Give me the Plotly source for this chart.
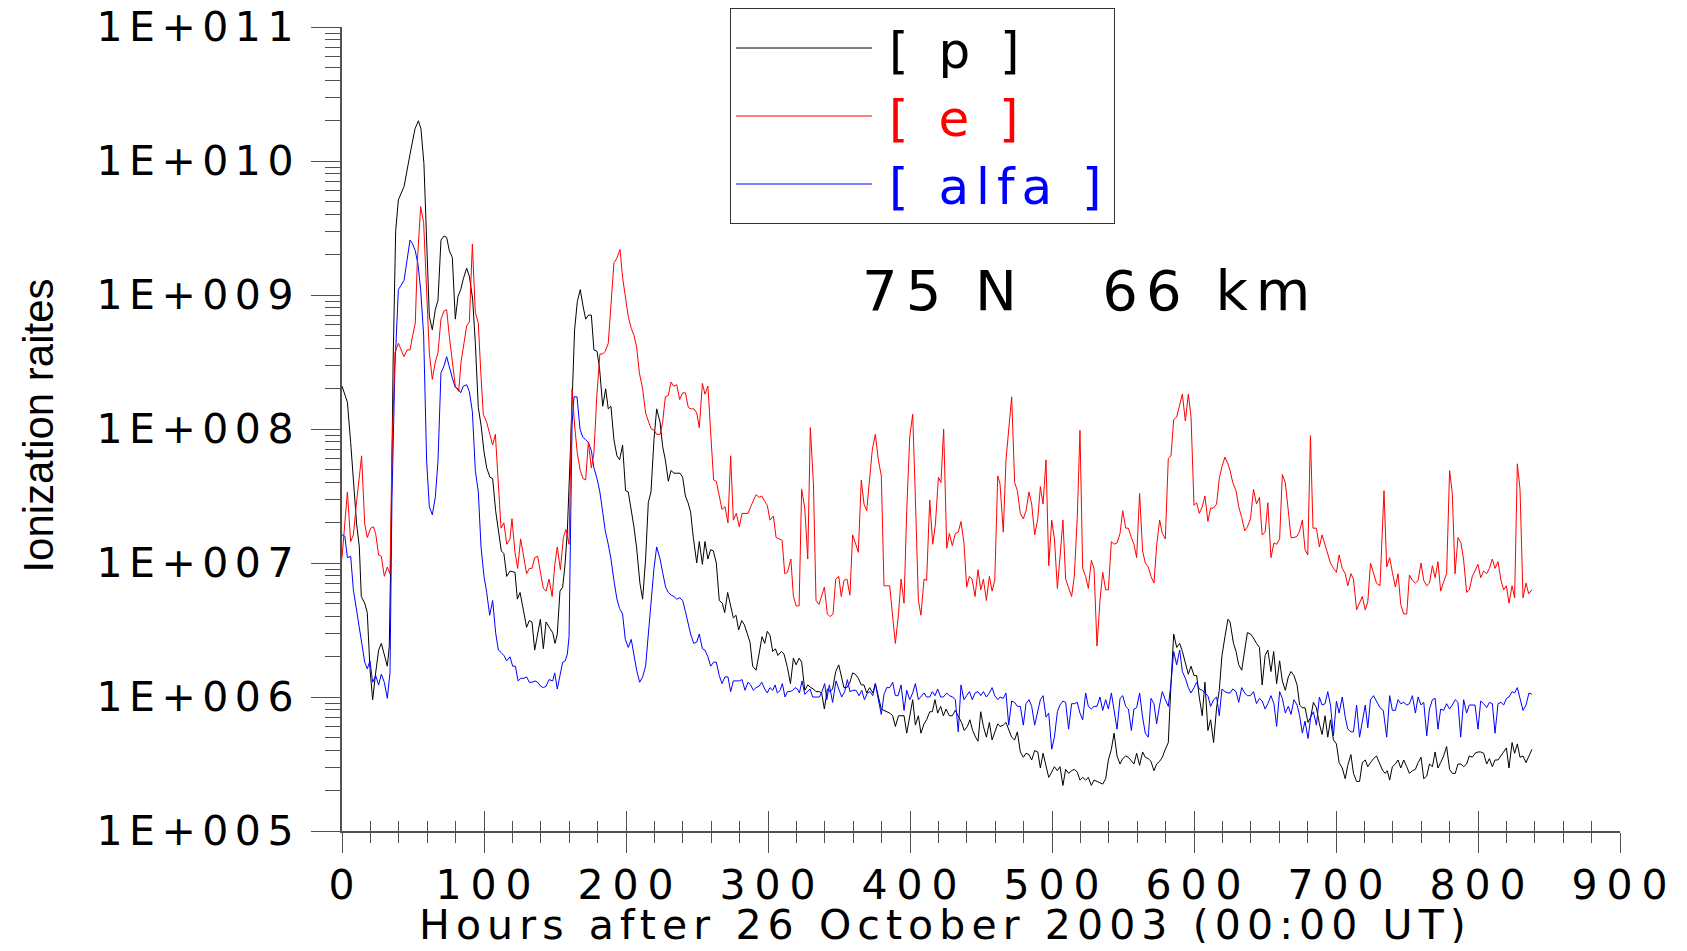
import plotly.graph_objects as go

# ---------------- data (hours after 26 Oct 2003, log10 of ionization rate) ----------------
p_hours = [0, 3.8, 6.1, 8, 10.3, 12.2, 13.6, 16, 17.8, 19.7, 21.6, 23.7, 25.8, 27.7, 29.8, 31.9, 33.3, 34.5, 36, 37.8, 39.7, 43.7, 47.9, 51.4, 53.8, 55.6, 57.7, 59.6, 61.5, 63.6, 65.7, 67.6, 69.7, 71.8, 73.7, 75.6, 77.7, 79.8, 81.7, 83.6, 85.4, 87.8, 89.7, 92, 93.9, 96, 97.9, 100, 101.9, 104.2, 106.1, 108.2, 110.3, 112.2, 114, 116, 118.3, 121.8, 123.5, 125.4, 127.7, 130, 131.9, 133.8, 135.7, 137.8, 139.7, 141.8, 143.7,
           146.5, 148.4, 150, 151.6, 153.5, 155.4, 157, 158.7, 160.6, 162.2, 163.8, 165.7, 167.8, 169.7, 171.6, 173.5, 175.6, 177.4, 179.6, 181.4, 183.6, 185.7, 187.5, 189.4, 191.5, 193.6, 195.5, 197.6, 199.7, 201.6, 203.5, 205.6, 207.5, 209.8, 211.7, 213.8, 215.7, 217.6, 219.7, 221.6, 224, 225.8, 227.7, 229.8, 231.7, 233.8, 235.7, 238, 239.9, 241.8, 243.7, 245.5, 247.4, 249.8, 251.6, 253.8, 255.6, 257.7, 259.6, 261.5, 263.6, 265.7, 267.8, 269.5, 271.6, 273.5, 275.6, 277.5, 279.3, 281.5, 283.3, 285.5, 287.3, 289.2, 291.6, 293.7, 295.8, 297.7, 299.5,
           301.4, 303.3, 305.2, 307, 309.4, 311.3, 313.7, 315.8, 317.9, 319.8, 321.9, 323.7, 325.9, 328, 330.1, 332, 333.8, 336.2, 337.8, 339.7, 341.8, 343.7, 345.5, 347.7, 349.8, 351.6, 353.5, 355.6, 357.7, 359.6, 361.5, 363.6, 365.7, 367.6, 369.5, 371.6, 373.8, 375.6, 377.7, 379.8, 381.7, 383.6, 385.7, 387.8, 389.7, 391.9, 393.7, 395.8, 397.7, 399.8, 401.9, 403.8, 405.9, 407.7, 409.9, 411.7, 413.9, 415.7, 417.6, 419.5, 421.6, 423.5, 425.4, 427.7, 429.8, 431.9, 434, 436.3, 438.2, 440.4, 442.2, 444.1, 446.2, 447.9, 449.8, 451.7, 453.8, 455.9, 457.8, 459.7, 461.8,
           463.4, 465.7, 467.6, 469.5, 471.6, 473.7, 475.6, 477.7, 479.8, 481.7, 483.8, 485.7, 487.8, 490, 491.8, 493.7, 495.8, 497.7, 499.8, 501.7, 503.8, 505.6, 507.7, 509.6, 511.7, 513.8, 515.7, 517.8, 519.7, 521.6, 523.7, 525.6, 527.7, 529.6, 531.7, 533.8, 535.7, 537.8, 539.7, 541.8, 543.7, 545.8, 547.9, 549.8, 551.9, 553.8, 555.9, 557.7, 559.6, 561.7, 563.8, 565.7, 567.8, 569.7, 571.8, 573.7, 575.8, 577.7, 579.8, 581.9, 583.8, 585.7, 587.8, 589.9, 591.8, 593.9, 596, 597.9, 600, 601.9, 603.7, 605.8, 607.7, 609.8, 611.7, 613.8, 615.9, 617.8, 619.7, 621.8, 623.9,
           625.4, 627.8, 629.6, 631.5, 633.6, 635.7, 637.6, 639.8, 641.9, 644, 646.1, 648, 650.1, 652, 654.2, 656.1, 658.2, 660.3, 662.2, 664.3, 666.4, 668.3, 670.4, 672.6, 674.4, 676.3, 678.2, 680.3, 682.2, 684.1, 686.2, 688.3, 690.2, 692.3, 694.2, 696.1, 698.2, 700.3, 702.2, 704.4, 706.5, 708.3, 710.5, 712.3, 714.5, 716.6, 718.5, 720.6, 722.4, 724.3, 726.4, 728.5,
           731, 732.9, 734.7, 736.1, 737.8, 739.7, 741.8, 743.7, 745.6, 747.7, 749.8, 751.7, 753.8, 755.9, 757.8, 759.9, 761.8, 763.9, 765.8, 767.9, 769.8, 771.8, 773.7, 775.8, 777.9, 780, 781.9, 784, 785.9, 788, 789.9, 792, 793.9, 796, 797.9, 800, 801.9, 804, 806.1, 808, 810.1, 812, 814.1, 816.2, 818.1, 820, 821.8, 824, 825.8, 827.7, 829.6, 831.7, 833.8, 835.9, 838]
p_log10 = [8.32, 8.20, 7.90, 7.59, 7.29, 7.12, 6.75, 6.70, 6.63, 6.21, 5.98, 6.18, 6.35, 6.40, 6.31, 6.23, 6.38, 7.15, 8.50, 9.48, 9.71, 9.81, 10.05, 10.24, 10.30, 10.24, 9.98, 9.34, 8.84, 8.74, 8.89, 8.96, 9.41, 9.44, 9.43, 9.33, 9.28, 8.82, 8.99, 9.04, 9.12, 9.20, 9.14, 8.97, 8.64, 8.16, 8.03, 7.83, 7.71, 7.64, 7.63, 7.39, 7.22, 7.09, 7.07, 6.90, 6.94, 6.93, 6.73, 6.78, 6.65, 6.52, 6.57, 6.56, 6.35, 6.48, 6.58, 6.36, 6.56,
           6.51, 6.48, 6.40, 6.47, 6.79, 6.82, 6.98, 7.24, 7.77, 8.29, 8.74, 8.95, 9.04, 8.92, 8.82, 8.85, 8.85, 8.59, 8.58, 8.45, 8.17, 8.30, 8.15, 8.17, 7.92, 7.80, 7.77, 7.88, 7.54, 7.53, 7.42, 7.27, 7.11, 6.85, 6.73, 7.03, 7.45, 7.53, 7.92, 8.15, 8.05, 7.87, 7.77, 7.61, 7.69, 7.67, 7.67, 7.67, 7.64, 7.50, 7.45, 7.38, 7.19, 7.00, 7.16, 6.99, 7.16, 7.03, 7.10, 7.09, 7.00, 6.72, 6.70, 6.63, 6.78, 6.69, 6.59, 6.61, 6.50, 6.57, 6.54, 6.47, 6.41, 6.23, 6.20, 6.32, 6.45, 6.40, 6.49,
           6.46, 6.34, 6.36, 6.31, 6.34, 6.32, 6.22, 6.10, 6.29, 6.24, 6.29, 6.26, 6.05, 6.09, 6.07, 6.06, 6.04, 6.04, 6.03, 5.91, 6.06, 6.04, 6.06, 6.19, 6.24, 6.15, 6.07, 6.07, 6.11, 6.18, 6.17, 6.14, 6.09, 6.09, 6.03, 6.07, 6.03, 6.10, 6.00, 5.91, 5.90, 5.89, 5.88, 5.86, 5.78, 5.86, 5.86, 5.86, 5.73, 5.86, 5.98, 5.79, 5.86, 5.73, 5.80, 5.83, 5.89, 5.89, 5.98, 5.88, 5.93, 5.86, 5.91, 5.86, 5.86, 5.90, 5.86, 5.81, 5.75, 5.78, 5.83, 5.75, 5.70, 5.67, 5.89, 5.78, 5.70, 5.81, 5.68, 5.74, 5.80,
           5.78, 5.79, 5.81, 5.76, 5.70, 5.68, 5.74, 5.59, 5.55, 5.58, 5.57, 5.53, 5.60, 5.59, 5.47, 5.58, 5.48, 5.40, 5.44, 5.48, 5.45, 5.48, 5.34, 5.46, 5.43, 5.45, 5.46, 5.44, 5.38, 5.40, 5.38, 5.40, 5.34, 5.38, 5.37, 5.36, 5.35, 5.39, 5.53, 5.61, 5.73, 5.56, 5.50, 5.54, 5.56, 5.55, 5.52, 5.50, 5.58, 5.49, 5.59, 5.55, 5.54, 5.52, 5.45, 5.50, 5.52, 5.55, 5.61, 5.66, 6.10, 6.47, 6.37, 6.40, 6.34, 6.26, 6.17, 6.23, 6.16, 6.16, 6.00, 5.86, 6.11, 5.75, 5.83, 5.66, 5.92, 6.05, 6.31, 6.45, 6.58,
           6.56, 6.40, 6.34, 6.24, 6.20, 6.34, 6.48, 6.47, 6.44, 6.40, 6.37, 6.09, 6.31, 6.35, 6.19, 6.34, 6.10, 6.27, 6.12, 6.05, 6.15, 6.19, 6.16, 6.09, 5.94, 5.92, 5.92, 5.81, 5.85, 5.96, 5.92, 5.80, 5.72, 5.86, 5.70, 5.83, 5.68, 5.65, 5.51, 5.47, 5.39, 5.49, 5.57, 5.43, 5.37, 5.37, 5.51, 5.53, 5.48, 5.51, 5.54, 5.56,
           5.50, 5.45, 5.43, 5.45, 5.38, 5.48, 5.50, 5.53, 5.47, 5.53, 5.48, 5.43, 5.45, 5.46, 5.51, 5.55, 5.39, 5.41, 5.50, 5.48, 5.59, 5.47, 5.51, 5.56, 5.63, 5.46, 5.43, 5.43, 5.50, 5.50, 5.48, 5.50, 5.56, 5.55, 5.58, 5.59, 5.59, 5.58, 5.50, 5.54, 5.48, 5.53, 5.53, 5.56, 5.59, 5.62, 5.47, 5.66, 5.58, 5.65, 5.55, 5.56, 5.51, 5.56, 5.61]

e_hours = [0, 1.4, 3.8, 6.1, 8, 10.3, 12.2, 13.8, 16, 17.8, 20.2, 22.1, 23.7, 25.8, 27.7, 29.8, 31.9, 33.8, 35.2, 37.3, 39.7, 41.5, 43.7, 45.8, 47.9, 49.8, 51.6, 53, 55.4, 57.5, 59.6, 61.5, 63.6, 65.7, 67.6, 69.7, 71.8, 73.7, 75.6, 77.7, 79.8, 82.2, 83.8, 85.9, 87.8, 89.7, 91.8, 93.9, 96, 97.7, 99.5, 101.9, 104.2, 106.1, 108, 110.1, 112, 114, 116, 118.3, 119.7, 121.8, 123.7, 125.8, 127.7, 130, 131.9, 133.8, 135.7, 137.8, 139.9, 141.8, 143.7, 145.8,
           148, 149.8, 151.6, 153.8, 155.9, 157.7, 159.9, 161, 162, 163.8, 165.7, 167.8, 169.7, 171.6, 173.5, 175.6, 177.4, 179.4, 181.6, 183.6, 185.4, 187.5, 189.4, 191.5, 193.4, 195.8, 197.6, 199.7, 201.6, 203.7, 205.6, 207.5, 209.4, 211.7, 213.8, 216, 217.8, 219.9, 221.6, 224, 225.8, 227.7, 229.8, 231.7, 233.6, 235.7, 237.8, 239.9, 241.8, 243.9, 246, 247.9, 249.8, 251.6, 253.8, 255.6, 257.7, 259.6, 261.7, 263.6, 265.7, 267.6, 269.7, 271.8, 273.7, 275.6, 277.7, 279.8, 281.7, 283.8, 285.9, 287.8, 289.7, 291.6, 293.7, 295.6, 297.7, 299.5,
           301.4, 303.8, 305.7, 307.8, 309.9, 311.8, 313.7, 316.1, 317.9, 319.8, 321.9, 323.7, 325.9, 328, 329.8, 332, 333.8, 335.9, 337.8, 339.7, 341.8, 343.7, 345.8, 347.7, 349.8, 351.6, 353.5, 355.6, 357.7, 359.6, 361.5, 363.6, 365.7, 367.6, 369.5, 371.6, 373.5, 375.6, 377.7, 379.8, 381.7, 383.6, 385.7, 387.6, 389.7, 391.9, 393.7, 395.8, 397.7, 399.8, 401.9, 403.8, 405.9, 407.7, 409.9, 411.7, 413.9, 416, 417.9, 420, 421.8, 423.7, 425.9, 427.7, 429.8, 431.9, 434, 435.9, 438, 439.9, 441.8, 443.7, 445.8, 447.9, 449.8, 451.7, 453.8, 455.9, 457.8, 459.7, 461.8,
           463.4, 465.7, 467.6, 469.5, 471.6, 473.7, 475.6, 477.7, 479.8, 481.7, 483.8, 485.7, 487.8, 490, 491.8, 493.7, 495.8, 497.7, 499.8, 501.7, 503.8, 505.6, 507.7, 509.6, 511.7, 513.8, 515.7, 517.8, 519.7, 521.6, 523.7, 525.6, 527.7, 529.6, 531.7, 533.8, 535.7, 537.8, 539.7, 541.8, 543.7, 545.8, 547.9, 549.8, 551.9, 553.8, 555.9, 557.7, 559.6, 561.7, 563.8, 565.7, 567.8, 569.7, 571.8, 573.7, 575.8, 577.7, 579.8, 581.9, 583.8, 585.7, 587.8, 589.9, 591.8, 593.9, 596, 597.9, 600, 601.9, 603.7, 605.8, 607.7, 609.8, 611.7, 613.6, 615.9, 617.8, 619.7, 621.8, 623.9,
           625.4, 627.3, 629.6, 631.5, 633.6, 635.7, 637.6, 639.8, 641.9, 644, 646.1, 648, 650.1, 652, 654.2, 656.3, 658.2, 660.3, 662.2, 664.3, 666.4, 668.3, 670.4, 672.6, 674.4, 676.3, 678.2, 680.1, 682, 683.8, 686.2, 688.3, 690.2, 692.3, 694.2, 696.1, 698.2, 700.3, 702.2, 704.4, 706.5, 708.3, 710.5, 712.3, 714.5, 716.6, 718.5, 720.6, 722.4, 724.3, 726.4, 728.5,
           731, 733.8, 735.7, 737.8, 739.7, 741.8, 743.7, 745.6, 747.7, 749.8, 751.7, 753.8, 755.9, 757.8, 759.9, 761.8, 763.9, 765.8, 767.9, 769.8, 771.8, 773.7, 775.8, 777.9, 780, 781.9, 783.8, 785.9, 788, 789.9, 792, 793.9, 796, 797.9, 800, 801.9, 804, 806.1, 808, 810.1, 812, 814.1, 816.2, 818.1, 820, 821.8, 824, 825.8, 827.7, 829.6, 831.7, 833.8, 835.7, 838]
e_log10 = [7.04, 7.21, 7.53, 7.16, 7.21, 7.46, 7.63, 7.80, 7.29, 7.19, 7.26, 7.27, 7.22, 7.06, 7.05, 6.90, 6.97, 6.92, 7.83, 8.57, 8.64, 8.59, 8.54, 8.59, 8.59, 8.70, 8.79, 9.24, 9.66, 9.54, 9.07, 8.57, 8.37, 8.50, 8.57, 8.82, 8.88, 8.89, 8.69, 8.50, 8.32, 8.28, 8.50, 8.64, 8.77, 8.80, 9.38, 8.87, 8.79, 8.43, 8.11, 8.05, 7.96, 7.88, 7.96, 7.59, 7.26, 7.30, 7.14, 7.18, 7.33, 7.08, 6.96, 7.18, 7.06, 6.92, 6.96, 6.96, 7.04, 7.05, 6.92, 6.81, 6.79, 6.88,
           6.75, 6.98, 7.12, 6.95, 7.19, 7.25, 7.14, 7.77, 8.30, 8.03, 7.82, 7.69, 7.63, 7.62, 7.90, 7.71, 7.82, 8.24, 8.56, 8.56, 8.58, 8.64, 8.92, 9.24, 9.27, 9.34, 9.13, 8.96, 8.84, 8.75, 8.70, 8.61, 8.42, 8.30, 8.12, 8.05, 8.00, 7.99, 7.96, 7.96, 8.05, 8.24, 8.25, 8.35, 8.32, 8.33, 8.22, 8.27, 8.27, 8.16, 8.15, 8.15, 8.12, 8.01, 8.34, 8.26, 8.32, 7.98, 7.62, 7.61, 7.50, 7.40, 7.42, 7.30, 7.80, 7.32, 7.37, 7.27, 7.37, 7.37, 7.37, 7.42, 7.47, 7.51, 7.49, 7.50, 7.46, 7.43,
           7.32, 7.35, 7.19, 7.18, 7.17, 6.92, 6.93, 7.03, 6.75, 6.68, 6.68, 7.55, 7.41, 7.03, 8.01, 7.59, 6.72, 6.69, 6.76, 6.82, 6.62, 6.60, 6.62, 6.88, 6.90, 6.75, 6.87, 6.88, 6.76, 7.21, 7.15, 7.08, 7.62, 7.44, 7.39, 7.63, 7.85, 7.96, 7.77, 7.65, 6.83, 6.83, 6.83, 6.62, 6.40, 6.62, 6.88, 6.70, 7.39, 7.94, 8.11, 7.48, 6.72, 6.61, 6.88, 6.87, 7.47, 7.14, 7.29, 7.64, 7.60, 8.00, 7.11, 7.22, 7.13, 7.22, 7.23, 7.31, 7.15, 6.82, 6.90, 6.88, 6.75, 6.95, 6.80, 6.88, 6.72, 6.90, 6.79, 6.87, 7.65,
           7.59, 7.23, 7.77, 8.01, 8.24, 7.60, 7.54, 7.37, 7.33, 7.39, 7.53, 7.44, 7.21, 7.33, 7.57, 7.44, 7.77, 6.98, 7.32, 7.18, 6.81, 7.04, 7.32, 6.88, 6.81, 6.75, 6.90, 7.34, 7.99, 6.96, 6.90, 6.81, 7.02, 6.96, 6.38, 6.72, 6.93, 6.80, 6.80, 7.16, 7.14, 7.15, 7.22, 7.39, 7.26, 7.26, 7.19, 7.14, 7.04, 7.52, 7.09, 7.00, 6.97, 6.90, 6.85, 7.13, 7.32, 7.22, 7.18, 7.78, 7.80, 8.07, 8.09, 8.18, 8.26, 8.06, 8.26, 8.09, 7.43, 7.45, 7.37, 7.42, 7.50, 7.31, 7.41, 7.41, 7.44, 7.63, 7.72, 7.79, 7.74,
           7.69, 7.60, 7.54, 7.42, 7.34, 7.24, 7.27, 7.33, 7.55, 7.44, 7.49, 7.21, 7.23, 7.45, 7.04, 7.15, 7.14, 7.18, 7.66, 7.60, 7.39, 7.19, 7.19, 7.20, 7.24, 7.32, 7.10, 7.06, 7.95, 7.26, 7.26, 7.12, 7.21, 7.14, 7.06, 7.00, 6.96, 6.93, 7.06, 6.96, 6.92, 6.83, 6.92, 6.88, 6.65, 6.71, 6.75, 6.65, 6.71, 7.00, 6.93, 6.85,
           6.83, 7.54, 6.97, 7.04, 6.93, 6.82, 6.92, 6.69, 6.62, 6.62, 6.91, 6.87, 6.85, 6.87, 7.00, 6.87, 6.83, 6.85, 6.98, 6.89, 7.01, 6.79, 6.86, 6.92, 7.69, 7.52, 6.92, 7.19, 7.15, 7.02, 6.78, 6.80, 6.90, 6.94, 6.99, 6.89, 6.94, 6.92, 6.96, 7.03, 6.96, 7.01, 6.87, 6.80, 6.83, 6.70, 6.83, 6.74, 7.74, 7.55, 6.74, 6.85, 6.77, 6.80]

alfa_hours = [0, 2, 3.8, 6.1, 8, 10.3, 12.2, 14.1, 16, 17.8, 19.7, 21.6, 23.7, 25.8, 27.7, 29.8, 31.9, 33.8, 35.2, 37.3, 39.7, 41.5, 43.7, 45.8, 47.9, 49.8, 51.6, 53.5, 55.4, 57.5, 59.6, 61.5, 63.6, 65.7, 67.6, 69.7, 71.8, 73.7, 75.6, 77.7, 79.8, 81.7, 83.6, 85.4, 87.8, 89.7, 91.8, 93.9, 96, 97.9, 100, 101.9, 104, 106.1, 108.2, 110.1, 112.2, 114, 116, 118.3, 120.2, 122.1, 124, 126, 128.2, 130, 131.9, 133.8, 135.9, 137.8, 139.9, 141.8, 143.7, 145.8,
              148.4, 149.8, 151.6, 153.5, 155.4, 157.2, 158.7, 159.9, 161, 162, 163.4, 165.5, 167.6, 169.5, 171.6, 173.5, 175.6, 177.4, 179.6, 181.6, 183.6, 185.4, 187.5, 189.4, 191.5, 193.6, 195.5, 197.6, 199.5, 201.6, 203.7, 205.6, 207.5, 209.6, 211.7, 213.8, 215.7, 217.6, 219.7, 221.6, 224, 225.8, 227.9, 229.8, 231.9, 233.8, 235.7, 237.8, 239.9, 241.8, 243.7, 245.5, 247.7, 249.8, 251.6, 253.8, 255.6, 257.7, 259.6, 261.7, 263.6, 265.7, 267.6, 269.7, 271.8, 273.7, 275.6, 277.7, 279.8, 281.7, 283.8, 285.9, 287.8, 289.7, 291.6, 293.7, 295.6, 297.7, 299.5,
              301.4, 303.3, 305, 306.6, 308.5, 310.1, 312, 313.7, 315.5, 317.4, 319.1, 320.7, 322.1, 324, 325.9, 327.7, 329.6, 331.5, 333.8, 336.2, 338, 339.9, 341.4, 343.2, 345.5, 347.9, 349.8, 351.9, 354, 355.9, 357.7, 359.8, 362, 364.1, 366, 367.9, 370, 371.8, 373.8, 375.6, 377.7, 379.8, 381.7, 383.6, 385.7, 387.8, 389.7, 391.6, 393.7, 395.8, 397.7, 399.8, 401.9, 403.8, 405.9, 407.7, 409.9, 411.7, 413.9, 415.7, 417.6, 419.5, 421.6, 423.5, 425.9, 427.7, 430.1, 431.9, 434, 435.9, 438, 439.9, 441.8, 443.9, 445.8, 447.9, 449.8, 451.7, 453.8, 455.9, 457.8, 459.7, 461.8,
              463.4, 465.7, 467.6, 469.5, 471.6, 473.7, 475.6, 477.7, 479.8, 481.7, 483.8, 485.7, 487.8, 490, 491.8, 493.7, 495.8, 497.7, 499.8, 501.7, 503.8, 505.6, 507.7, 509.6, 511.7, 513.8, 515.7, 517.8, 519.7, 521.6, 523.7, 525.6, 527.7, 529.6, 531.7, 533.8, 535.7, 537.8, 539.7, 541.8, 543.7, 545.8, 547.9, 549.8, 551.9, 553.8, 555.9, 557.7, 559.6, 561.7, 563.8, 565.7, 567.8, 569.7, 571.8, 573.7, 575.8, 577.7, 579.8, 581.9, 583.8, 585.7, 587.8, 589.9, 591.8, 593.9, 596, 597.9, 600, 601.9, 603.7, 605.8, 607.7, 609.8, 611.7, 613.8, 615.9, 617.8, 619.7, 621.8, 623.9,
              625.4, 627.3, 629.6, 631.5, 633.6, 635.7, 637.6, 639.8, 641.9, 644, 646.1, 648, 650.1, 652, 654.2, 656.3, 658.2, 660.3, 662.2, 664.3, 666.4, 668.3, 670.4, 672.6, 674.4, 676.3, 678.2, 680.3, 682.2, 684.1, 686.2, 688.3, 690.2, 692.3, 694.2, 696.1, 698.2, 700.3, 702.2, 704.4, 706.5, 708.3, 710.5, 712.3, 714.5, 716.6, 718.5, 720.6, 722.4, 724.3, 726.4, 728.5,
              731, 733.3, 735.7, 737.8, 739.7, 741.8, 743.7, 745.6, 747.7, 749.8, 751.7, 753.8, 755.9, 757.8, 759.9, 761.8, 763.9, 765.8, 767.9, 769.8, 771.8, 773.7, 775.8, 777.9, 780, 781.9, 784, 785.9, 787.8, 789.9, 792, 793.9, 796, 797.9, 800, 801.9, 804, 806.1, 808, 810.1, 812, 814.1, 816.2, 818.1, 820, 821.8, 824, 825.8, 827.7, 829.6, 831.7, 833.8, 835.9, 838]
alfa_log10 = [7.21, 7.20, 7.04, 7.05, 6.80, 6.65, 6.52, 6.38, 6.26, 6.21, 6.27, 6.11, 6.16, 6.09, 6.17, 6.11, 5.99, 6.18, 7.49, 8.47, 9.04, 9.07, 9.11, 9.26, 9.41, 9.38, 9.33, 9.23, 9.04, 8.70, 7.76, 7.42, 7.36, 7.49, 7.76, 8.42, 8.47, 8.54, 8.46, 8.38, 8.31, 8.30, 8.27, 8.32, 8.33, 8.28, 8.13, 7.69, 7.53, 7.12, 6.90, 6.78, 6.61, 6.72, 6.48, 6.35, 6.33, 6.31, 6.27, 6.30, 6.23, 6.23, 6.12, 6.14, 6.14, 6.15, 6.11, 6.11, 6.12, 6.11, 6.08, 6.07, 6.08, 6.13,
              6.12, 6.18, 6.06, 6.16, 6.26, 6.27, 6.32, 6.45, 7.24, 8.03, 8.24, 8.24, 8.00, 7.94, 7.92, 7.90, 7.84, 7.71, 7.63, 7.53, 7.38, 7.24, 7.14, 7.03, 6.87, 6.73, 6.66, 6.62, 6.43, 6.37, 6.43, 6.32, 6.20, 6.11, 6.15, 6.23, 6.45, 6.72, 6.96, 7.12, 7.03, 6.93, 6.82, 6.78, 6.76, 6.75, 6.73, 6.74, 6.72, 6.64, 6.55, 6.47, 6.40, 6.41, 6.47, 6.36, 6.35, 6.30, 6.23, 6.26, 6.26, 6.16, 6.10, 6.15, 6.15, 6.04, 6.12, 6.12, 6.12, 6.13, 6.05, 6.11, 6.09, 6.05, 6.07, 6.08, 6.11, 6.06, 6.03,
              6.07, 6.05, 6.09, 6.03, 6.05, 6.10, 6.00, 6.04, 6.04, 6.05, 6.07, 6.06, 6.03, 6.12, 6.02, 6.04, 6.06, 6.00, 6.00, 6.00, 6.04, 6.10, 5.98, 6.09, 5.96, 6.12, 6.06, 6.00, 6.04, 6.13, 6.04, 6.05, 6.05, 6.01, 6.05, 5.98, 6.03, 6.04, 6.01, 6.10, 5.98, 5.87, 6.02, 6.07, 6.07, 6.11, 6.01, 6.01, 6.09, 5.90, 6.05, 5.98, 6.03, 6.10, 5.98, 6.00, 6.03, 6.00, 6.00, 6.04, 6.01, 6.06, 6.00, 6.00, 6.03, 6.01, 6.00, 5.98, 5.74, 6.09, 5.98, 6.01, 6.04, 5.98, 6.03, 6.04, 6.01, 6.04, 6.00, 6.03, 6.07, 6.01, 5.98,
              6.00, 5.99, 6.03, 5.79, 5.97, 5.96, 5.93, 5.93, 5.79, 5.95, 5.98, 5.93, 5.79, 5.89, 5.98, 6.01, 5.85, 5.88, 5.61, 5.70, 5.89, 5.94, 5.97, 5.96, 5.76, 5.95, 5.95, 5.96, 5.88, 5.83, 6.03, 5.93, 5.91, 5.93, 5.93, 6.00, 5.90, 5.98, 5.91, 6.03, 5.89, 5.76, 5.99, 6.01, 5.93, 5.91, 5.75, 5.91, 5.92, 6.03, 5.85, 5.73, 5.70, 5.99, 5.95, 5.80, 5.94, 6.04, 5.98, 5.93, 6.10, 6.34, 6.24, 6.35, 6.19, 6.14, 6.07, 6.03, 6.07, 6.11, 6.06, 6.05, 6.03, 6.01, 5.93, 5.98, 6.00, 5.86, 6.06, 6.04, 6.03,
              6.03, 6.06, 6.04, 5.96, 6.07, 6.03, 6.01, 6.01, 6.04, 5.95, 5.99, 5.97, 5.91, 5.95, 6.01, 5.95, 5.78, 6.04, 5.99, 5.88, 5.93, 5.87, 5.98, 5.94, 5.86, 5.73, 5.82, 5.69, 5.85, 5.89, 5.79, 6.00, 5.94, 5.95, 6.04, 5.94, 5.71, 5.97, 5.88, 6.00, 5.85, 5.76, 5.74, 5.74, 5.94, 5.70, 5.83, 5.94, 5.77, 5.98, 6.01, 5.97,
              5.92, 5.90, 5.70, 6.01, 5.90, 5.90, 5.98, 5.95, 5.96, 5.94, 5.95, 6.01, 5.88, 6.00, 5.94, 5.96, 5.71, 5.91, 5.98, 5.99, 5.76, 5.91, 5.90, 5.95, 5.91, 5.94, 5.98, 5.96, 5.70, 5.98, 5.88, 5.94, 5.94, 5.94, 5.76, 5.97, 5.95, 5.92, 5.96, 5.95, 5.73, 5.95, 5.96, 5.94, 5.99, 6.00, 6.04, 6.03, 6.07, 5.99, 5.90, 5.94, 6.03, 6.02]

y_tick_vals = [1e5, 1e6, 1e7, 1e8, 1e9, 1e10, 1e11]
y_tick_text = ["1E+005", "1E+006", "1E+007", "1E+008", "1E+009", "1E+010", "1E+011"]
x_tick_vals = [0, 100, 200, 300, 400, 500, 600, 700, 800, 900]
x_tick_text = ["0", "100", "200", "300", "400", "500", "600", "700", "800", "900"]

series_names = ["[ p ]", "[ e ]", "[ alfa ]"]
series_colors = ["#000000", "#ff0000", "#0000ff"]

# ---------------- figure ----------------
FONT = "DejaVu Sans"
AX = "#505050"
PAGE_PAD = 8                      # default body margin of the html page
W, H = 1687 - 2 * PAGE_PAD, 951 - 2 * PAGE_PAD
PW, PH = 1278, 804                # plot area size in px
L, T = 342 - PAGE_PAD, 27 - PAGE_PAD
R, B = W - L - PW, H - T - PH


def px_x(xpage):
    return (xpage - PAGE_PAD - L) / PW


def px_y(ypage):
    return ((T + PH) - (ypage - PAGE_PAD)) / PH


def spaced(text, px, color=None):
    style = f"letter-spacing:{px}px"
    if color:
        style = f"color:{color};" + style
    return f'<span style="{style}">{text}</span>'


def to_rate(vals):
    return [10 ** v for v in vals]


fig = go.Figure()
data = [(p_hours, p_log10), (e_hours, e_log10), (alfa_hours, alfa_log10)]
for i, (hrs, lg) in enumerate(data):
    n = min(len(hrs), len(lg))
    fig.add_trace(go.Scatter(
        x=hrs[:n], y=to_rate(lg[:n]), mode="lines",
        line=dict(color=series_colors[i], width=1),
        name=spaced("\u200a" + series_names[i], 7, series_colors[i]),
        xaxis="x2" if i == 1 else "x",
    ))

minor_y = [k * 10 ** d for d in range(5, 11) for k in range(2, 10)]

fig.update_layout(
    width=W, height=H,
    margin=dict(l=L, r=R, t=T, b=B, autoexpand=False),
    paper_bgcolor="white", plot_bgcolor="white",
    showlegend=True,
    legend=dict(
        xref="container", yref="container",
        x=(730 - PAGE_PAD) / W, y=1.0, xanchor="left", yanchor="top",
        bgcolor="white", bordercolor="#333333", borderwidth=1,
        font=dict(family=FONT, size=50, color="black"),
        itemwidth=136, tracegroupgap=0,
    ),
    xaxis=dict(
        range=[0, 900], showgrid=False, zeroline=False, automargin=False,
        showline=True, linecolor=AX, linewidth=1.5,
        tickmode="array", tickvals=x_tick_vals, showticklabels=False,
        ticks="outside", ticklen=20, tickwidth=1, tickcolor=AX,
        minor=dict(dtick=20, tick0=0, ticks="outside", ticklen=10, tickwidth=1, tickcolor=AX),
    ),
    xaxis2=dict(
        range=[0, 900], overlaying="x", anchor="y", side="bottom", automargin=False,
        showgrid=False, zeroline=False, showline=False,
        tickmode="array", tickvals=x_tick_vals,
        ticktext=[spaced(t, 9) for t in x_tick_text],
        ticks="inside", ticklen=20, tickwidth=1, tickcolor=AX,
        minor=dict(dtick=20, tick0=0, ticks="inside", ticklen=10, tickwidth=1, tickcolor=AX),
        tickfont=dict(family=FONT, size=41, color="black"),
        ticklabelstandoff=26, ticklabelshift=4, ticklabeloverflow="allow",
    ),
    yaxis=dict(
        type="log", range=[5, 11], showgrid=False, zeroline=False, automargin=False,
        showline=True, linecolor=AX, linewidth=1.5,
        tickmode="array", tickvals=y_tick_vals,
        ticktext=[spaced(t, 6.5) for t in y_tick_text],
        ticks="outside", ticklen=29, tickwidth=1, tickcolor=AX,
        minor=dict(tickmode="array", tickvals=minor_y, ticks="outside", ticklen=15, tickwidth=1, tickcolor=AX),
        tickfont=dict(family=FONT, size=41, color="black"),
        ticklabelstandoff=3, ticklabeloverflow="allow",
    ),
    annotations=[
        dict(text=spaced("Hours after 26 October 2003 (00:00 UT)", 6.1),
             xref="paper", yref="paper", x=px_x(945), y=px_y(925),
             xanchor="center", yanchor="middle", showarrow=False,
             font=dict(family=FONT, size=41, color="black")),
        dict(text="Ionization raites",
             xref="paper", yref="paper", x=px_x(37.6), y=px_y(426),
             xanchor="center", yanchor="middle", showarrow=False, textangle=-90,
             font=dict(family="Liberation Sans", size=42, color="black")),
        dict(text=spaced("75 N   66 km", 8),
             xref="paper", yref="paper", x=px_x(1090), y=px_y(290.5),
             xanchor="center", yanchor="middle", showarrow=False,
             font=dict(family=FONT, size=56, color="black")),
    ],
)

fig.write_html("out.html")
